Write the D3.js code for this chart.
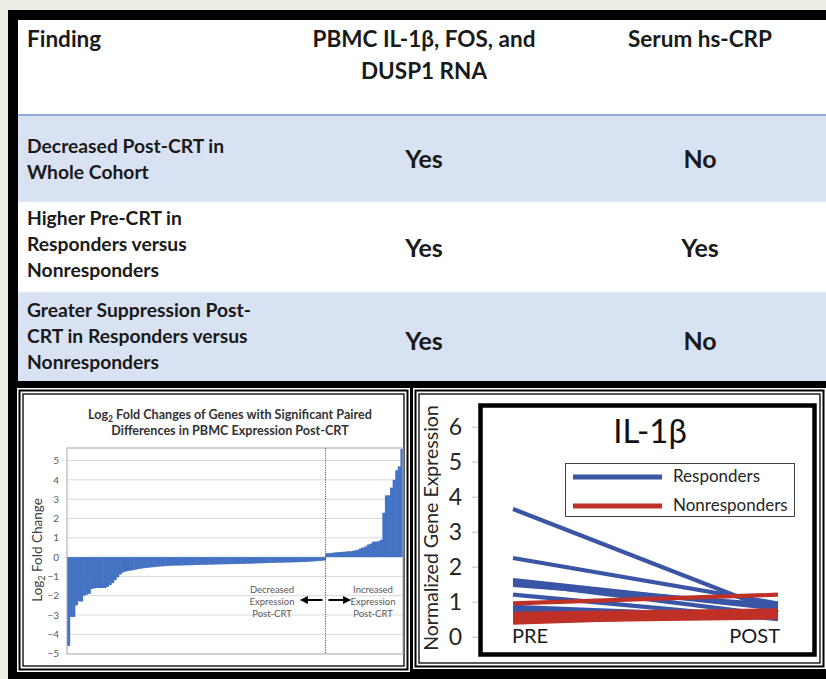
<!DOCTYPE html>
<html><head><meta charset="utf-8">
<script src="https://cdn.jsdelivr.net/npm/d3@7"></script>
<style>
html,body{margin:0;padding:0;background:#eeeee5;}
svg{display:block;}
text{font-family:Lato,"Open Sans",sans-serif;}
</style></head>
<body>
<svg id="fig" width="826" height="679"></svg>
<script>
// ---------- DATA ----------
const tableHeaders = ["Finding", "PBMC IL-1β, FOS, and|DUSP1 RNA", "Serum hs-CRP"];
const findings = [
  ["Decreased Post-CRT in", "Whole Cohort"],
  ["Higher Pre-CRT in", "Responders versus", "Nonresponders"],
  ["Greater Suppression Post-", "CRT in Responders versus", "Nonresponders"]
];
const pbmcResults = ["Yes", "Yes", "Yes"];
const crpResults = ["No", "Yes", "No"];

const decreasedGenes = [-4.6,-3.1,-3.1,-2.5,-2.3,-2.3,-2.0,-1.95,-1.9,-1.65,-1.62,-1.6,-1.6,-1.6,-1.6,-1.55,-1.45,-1.35,-1.2,-1.05,
  -0.9,-0.8,-0.75,-0.72,-0.7,-0.68,-0.65,-0.62,-0.6,-0.58,-0.56,-0.55,-0.53,-0.52,-0.5,-0.49,-0.48,-0.47,-0.46,
  -0.45,-0.45,-0.44,-0.44,-0.44,-0.43,-0.43,-0.42,-0.42,-0.42,-0.41,-0.41,-0.4,
  -0.4,-0.4,-0.39,-0.39,-0.39,-0.38,-0.38,-0.38,-0.37,-0.37,-0.37,-0.36,-0.36,-0.36,-0.35,-0.35,-0.35,-0.34,-0.34,-0.34,-0.33,-0.33,-0.32,-0.32,-0.31,-0.31,
  -0.3,-0.3,-0.3,-0.29,-0.29,-0.29,-0.28,-0.28,-0.28,-0.27,-0.27,-0.26,-0.26,-0.25,-0.25,-0.24,-0.23,-0.22,-0.21,-0.2,-0.19,-0.17];
const increasedGenes = [0.2,0.2,0.22,0.24,0.25,0.26,0.27,0.28,0.3,0.3,0.32,0.35,0.38,0.45,0.5,0.55,0.65,0.7,0.8,0.8,0.82,0.9,2.3,3.2,3.2,3.6,4.0,4.5,4.7,5.6];
const foldTicks = [-5,-4,-3,-2,-1,0,1,2,3,4,5];
const foldTitle = ["Log", "2", " Fold Changes of Genes with Significant Paired"];
const foldTitle2 = "Differences in PBMC Expression Post-CRT";
const decreasedNote = ["Decreased", "Expression", "Post-CRT"];
const increasedNote = ["Increased", "Expression", "Post-CRT"];

const timepoints = ["PRE", "POST"];
const responders = [[3.65,0.7],[2.25,0.95],[1.62,0.8],[1.55,0.6],[1.48,0.9],[1.2,0.5],[0.85,0.55],[0.75,0.65]];
const nonresponders = [[0.95,1.2],[0.65,0.75],[0.6,0.7],[0.55,0.6],[0.4,0.65],[0.45,0.55]];
const exprTicks = [0,1,2,3,4,5,6];
const legendLabels = ["Responders", "Nonresponders"];

// ---------- LAYOUT ----------
const svg = d3.select("#fig");
const BLUE_ROW = "#d9e2f3";
const TXT = "#1a1a1a";

svg.append("rect").attr("x",8).attr("y",10).attr("width",830).attr("height",680).attr("fill","#000");
svg.append("rect").attr("x",18).attr("y",20).attr("width",808).attr("height",94).attr("fill","#fff");
svg.append("rect").attr("x",18).attr("y",114).attr("width",808).attr("height",2).attr("fill","#8eaadb");
const rowY = [[116,202],[202,292],[292,381]];
const rowFill = [BLUE_ROW, "#fff", BLUE_ROW];
rowY.forEach((r,i)=>svg.append("rect").attr("x",18).attr("y",r[0]).attr("width",808).attr("height",r[1]-r[0]).attr("fill",rowFill[i]));
[202,292].forEach(y=>svg.append("rect").attr("x",18).attr("y",y-0.5).attr("width",808).attr("height",1).attr("fill","#f4f6fb"));

// header
const hdr = svg.append("g").attr("font-weight","bold").attr("font-size",22.5).attr("fill",TXT);
hdr.append("text").attr("x",27).attr("y",47).text(tableHeaders[0]);
tableHeaders[1].split("|").forEach((t,i)=>hdr.append("text").attr("x",424).attr("y",47+32*i).attr("text-anchor","middle").text(t));
hdr.append("text").attr("x",700).attr("y",47).attr("text-anchor","middle").text(tableHeaders[2]);

const rowTextTop = [153,225,317];
const rowCenter = [159,248,341];
findings.forEach((lines,i)=>{
  lines.forEach((t,j)=>svg.append("text").attr("x",27).attr("y",rowTextTop[i]+26*j)
    .attr("font-size",19.3).attr("font-weight","bold").attr("fill",TXT).text(t));
  svg.append("text").attr("x",424).attr("y",rowCenter[i]+9).attr("text-anchor","middle")
    .attr("font-size",25).attr("font-weight","bold").attr("fill",TXT).text(pbmcResults[i]);
  svg.append("text").attr("x",700).attr("y",rowCenter[i]+9).attr("text-anchor","middle")
    .attr("font-size",25).attr("font-weight","bold").attr("fill",TXT).text(crpResults[i]);
});

// panels
function panel(x0,y0,x1,y1){
  svg.append("rect").attr("x",x0).attr("y",y0).attr("width",x1-x0).attr("height",y1-y0).attr("fill","#fff");
  svg.append("rect").attr("x",x0+2.5).attr("y",y0+2.5).attr("width",x1-x0-5).attr("height",y1-y0-5)
    .attr("fill","none").attr("stroke","#000").attr("stroke-width",2);
  svg.append("rect").attr("x",x0+6).attr("y",y0+6).attr("width",x1-x0-12).attr("height",y1-y0-12)
    .attr("fill","none").attr("stroke","#000").attr("stroke-width",1.3);
}
panel(17,388,410,672);
panel(413,388,826,669);

// ---------- LEFT CHART ----------
const L = {x0:67, x1:403, y0:448, y1:654};
const genes = decreasedGenes.concat(increasedGenes);
const xg = d3.scaleBand().domain(d3.range(genes.length)).range([L.x0, L.x1]).padding(0);
const yf = d3.scaleLinear().domain([-5.02,5.65]).range([L.y1, L.y0]);

const lc = svg.append("g");
lc.selectAll("line.grid").data(foldTicks.filter(d=>d>-5)).enter().append("line")
  .attr("x1",L.x0).attr("x2",L.x1).attr("y1",d=>yf(d)).attr("y2",d=>yf(d))
  .attr("stroke","#d9d9d9").attr("stroke-width",1);
lc.selectAll("rect.bar").data(genes).enter().append("rect")
  .attr("x",(d,i)=>xg(i)).attr("width",xg.bandwidth()+0.6)
  .attr("y",d=>Math.min(yf(0),yf(d))).attr("height",d=>Math.abs(yf(d)-yf(0)))
  .attr("fill","#4472c4");
lc.append("rect").attr("x",L.x0).attr("y",L.y0).attr("width",L.x1-L.x0).attr("height",L.y1-L.y0)
  .attr("fill","none").attr("stroke","#a6a6a6").attr("stroke-width",1);
const divX = xg(decreasedGenes.length);
lc.append("line").attr("x1",divX).attr("x2",divX).attr("y1",L.y0).attr("y2",L.y1)
  .attr("stroke","#555").attr("stroke-width",1).attr("stroke-dasharray","1.2,1.2");

const yAxisL = d3.axisLeft(yf).tickValues(foldTicks).tickSize(0).tickPadding(8).tickFormat(d3.format("d"));
const gyl = lc.append("g").attr("transform",`translate(${L.x0},0)`).call(yAxisL);
gyl.select(".domain").remove();
gyl.selectAll("text").attr("font-size",10).attr("fill","#595959").attr("font-family","Lato,sans-serif");

const t1 = lc.append("text").attr("x",230).attr("y",419).attr("text-anchor","middle")
  .attr("font-size",12.6).attr("font-weight","bold").attr("fill","#333");
t1.append("tspan").text(foldTitle[0]);
t1.append("tspan").attr("font-size",8.5).attr("dy",3).text(foldTitle[1]);
t1.append("tspan").attr("dy",-3).text(foldTitle[2]);
lc.append("text").attr("x",230).attr("y",435).attr("text-anchor","middle")
  .attr("font-size",12.6).attr("font-weight","bold").attr("fill","#333").text(foldTitle2);

const yt = lc.append("text").attr("transform","translate(42,550) rotate(-90)").attr("text-anchor","middle")
  .attr("font-size",13.5).attr("fill","#404040");
yt.append("tspan").text("Log");
yt.append("tspan").attr("font-size",9).attr("dy",3).text("2");
yt.append("tspan").attr("dy",-3).text(" Fold Change");

decreasedNote.forEach((t,i)=>lc.append("text").attr("x",272).attr("y",593+12*i).attr("text-anchor","middle")
  .attr("font-size",9.5).attr("fill","#595959").text(t));
increasedNote.forEach((t,i)=>lc.append("text").attr("x",373).attr("y",593+12*i).attr("text-anchor","middle")
  .attr("font-size",9.5).attr("fill","#595959").text(t));
const defs = svg.append("defs");
defs.append("marker").attr("id","ah").attr("viewBox","0 0 10 10").attr("refX",8).attr("refY",5)
  .attr("markerWidth",4).attr("markerHeight",4).attr("orient","auto-start-reverse")
  .append("path").attr("d","M0,0L10,5L0,10z").attr("fill","#000");
lc.append("line").attr("x1",divX-3).attr("x2",divX-24).attr("y1",600).attr("y2",600)
  .attr("stroke","#000").attr("stroke-width",2).attr("marker-end","url(#ah)");
lc.append("line").attr("x1",divX+3).attr("x2",divX+24).attr("y1",600).attr("y2",600)
  .attr("stroke","#000").attr("stroke-width",2).attr("marker-end","url(#ah)");

// ---------- RIGHT CHART ----------
const xs = d3.scalePoint().domain(timepoints).range([513,778]);
const ye = d3.scaleLinear().domain([0,6]).range([636.7,426.7]);
const rc = svg.append("g");
const yAxisR = d3.axisLeft(ye).tickValues(exprTicks).tickSize(6).tickPadding(10).tickFormat(d3.format("d"));
const gyr = rc.append("g").attr("transform","translate(478,0)").call(yAxisR);
gyr.select(".domain").remove();
gyr.selectAll("line").attr("stroke","#bfbfbf");
gyr.selectAll("text").attr("font-size",23).attr("fill","#262626").attr("font-family","Lato,sans-serif");
rc.append("text").attr("transform","translate(438,528) rotate(-90)").attr("text-anchor","middle")
  .attr("font-size",19.5).attr("fill","#262626").text("Normalized Gene Expression");

const line = d3.line().x((d,i)=>xs(timepoints[i])).y(d=>ye(d));
rc.selectAll("path.resp").data(responders).enter().append("path")
  .attr("d",line).attr("fill","none").attr("stroke","#3a55a6").attr("stroke-width",4.2);
rc.selectAll("path.non").data(nonresponders).enter().append("path")
  .attr("d",line).attr("fill","none").attr("stroke","#bf3027").attr("stroke-width",4.2);

rc.append("rect").attr("x",480.5).attr("y",405.5).attr("width",334).attr("height",249)
  .attr("fill","none").attr("stroke","#000").attr("stroke-width",4.5);
rc.append("text").attr("x",650).attr("y",443).attr("text-anchor","middle").attr("font-size",33).attr("fill","#111").text("IL-1β");

rc.append("text").attr("x",512).attr("y",643).attr("font-size",20).attr("fill","#1a1a1a").text(timepoints[0]);
rc.append("text").attr("x",780).attr("y",643).attr("text-anchor","end").attr("font-size",20).attr("fill","#1a1a1a").text(timepoints[1]);

rc.append("rect").attr("x",565.5).attr("y",463.5).attr("width",229).attr("height",53)
  .attr("fill","#fff").attr("stroke","#404040").attr("stroke-width",1);
const legColors = ["#3a55a6","#bf3027"];
legendLabels.forEach((t,i)=>{
  const y = 477 + 29*i;
  rc.append("line").attr("x1",573).attr("x2",662).attr("y1",y).attr("y2",y).attr("stroke",legColors[i]).attr("stroke-width",5);
  rc.append("text").attr("x",673).attr("y",y+5).attr("font-size",17).attr("fill","#262626").text(t);
});
</script>
</body></html>
